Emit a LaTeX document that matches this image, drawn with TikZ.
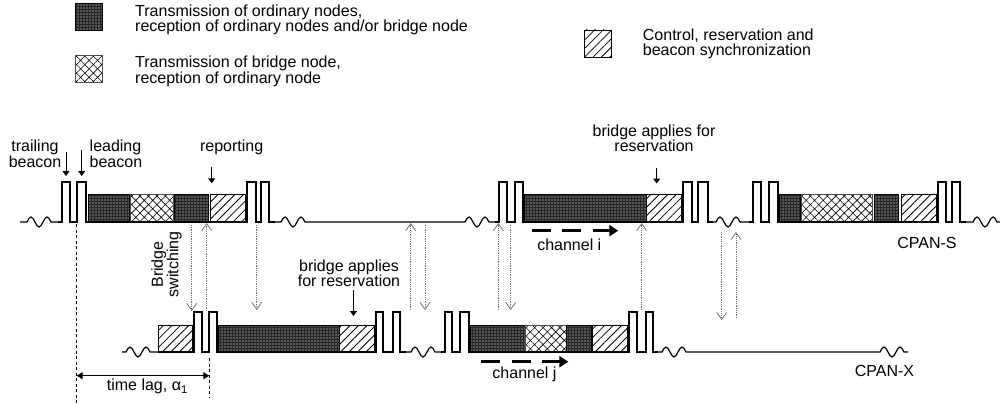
\documentclass[tikz,border=0pt]{standalone}
\usepackage{fontspec}
\setmainfont{Liberation Sans}
\usetikzlibrary{arrows.meta,patterns,patterns.meta}
\newcommand\wavy{sin ++(4,-5) cos ++(4,5) sin ++(4,5) cos ++(4,-5) sin ++(4,-5) cos ++(4,5)}
\tikzset{
  sig/.style={line width=1.8pt, line join=miter},
  idle/.style={line width=1.2pt},
  dotbox/.style={fill=black!85, postaction={pattern={Dots[distance=3pt,radius=0.6pt]}, pattern color=white}, postaction={draw=black,line width=0.7pt}},
  crossbox/.style={fill=white, postaction={pattern={Hatch[angle=45,distance=6pt,line width=0.6pt]}, pattern color=black}, postaction={draw=black!70,line width=0.7pt}},
  hatchbox/.style={fill=white, postaction={pattern={Lines[angle=45,distance=6pt,line width=0.8pt]}, pattern color=black}, postaction={draw=black,line width=0.8pt}},
  lbl/.style={-{Triangle[length=5pt,width=7pt]}, line width=1pt},
  sync/.style={densely dotted, draw=black!55, line width=0.8pt, -{Straight Barb[length=7pt,width=10pt]}},
  chan/.style={line width=2.6pt, dash pattern=on 19pt off 11.5pt, -{Triangle[length=9pt,width=11pt]}},
  lag/.style={{Triangle[length=6pt,width=7pt]}-{Triangle[length=6pt,width=7pt]}, line width=1.1pt},
  guide/.style={line width=0.8pt, dash pattern=on 3pt off 2.5pt},
  txt/.style={inner sep=0pt, font=\fontsize{16}{15.5}\selectfont}
}
\begin{document}
\begin{tikzpicture}[x=1pt,y=-1pt]
\useasboundingbox (0,0) rectangle (1000,404);

% ---------- legend ----------
\path[dotbox]   (75,3.5) rectangle (102,30);
\path[crossbox] (75,55.5) rectangle (102,82);
\path[hatchbox] (584,30) rectangle (611,57);
\node[txt, anchor=north west, align=left] (leg1) at (135,4.4) {Transmission of ordinary nodes,\\reception of ordinary nodes and/or bridge node};
\node[txt, anchor=north west, align=left] (leg2) at (135,55.9) {Transmission of bridge node,\\reception of ordinary node};
\node[txt, anchor=north west, align=left] (leg3) at (642.7,28.4) {Control, reservation and\\beacon synchronization};

% ---------- boxes, CPAN-S ----------
\path[dotbox]   (88,194.5) rectangle (129.5,222);
\path[crossbox] (130,194.5) rectangle (173.5,222);
\path[dotbox]   (174,194.5) rectangle (208,222);
\path[hatchbox] (210,194.5) rectangle (245,222);
\path[dotbox]   (524.5,194.5) rectangle (646.5,222);
\path[hatchbox] (646.5,194.5) rectangle (681,222);
\path[dotbox]   (779,194.5) rectangle (800,222);
\path[crossbox] (801.5,194.5) rectangle (872.5,222);
\path[dotbox]   (874.5,194.5) rectangle (898.5,222);
\path[hatchbox] (901.5,194.5) rectangle (936,222);

% ---------- boxes, CPAN-X ----------
\path[hatchbox] (158.5,325.5) rectangle (192.5,352);
\path[dotbox]   (218.5,325.5) rectangle (339.5,352);
\path[hatchbox] (339.5,325.5) rectangle (374.5,352);
\path[dotbox]   (470.5,325.5) rectangle (525,352);
\path[crossbox] (525,325.5) rectangle (566,352);
\path[dotbox]   (566,325.5) rectangle (591,352);
\path[hatchbox] (592.5,325.5) rectangle (627.5,352);

% ---------- CPAN-S signal ----------
\draw[idle] (20,222) -- (27,222) \wavy -- (62,222);
\draw[idle] (269,222) -- (281,222) \wavy -- (465,222) \wavy -- (499,222);
\draw[idle] (708,222) -- (716,222) \wavy -- (753,222);
\draw[idle] (960,222) -- (973,222) \wavy -- (1000,222);
\draw[sig] (58,222) -- (62,222) -- (62,182) -- (70,182) -- (70,222) -- (77,222) -- (77,182) -- (86,182) -- (86,222)
  -- (247,222) -- (247,182) -- (256,182) -- (256,222) -- (261,222) -- (261,182) -- (269,182) -- (269,222) -- (275,222);
\draw[sig] (495,222) -- (499,222) -- (499,182) -- (507,182) -- (507,222) -- (515,222) -- (515,182) -- (523,182) -- (523,222)
  -- (683,222) -- (683,182) -- (692,182) -- (692,222) -- (698,222) -- (698,182) -- (708,182) -- (708,222) -- (713,222);
\draw[sig] (749,222) -- (753,222) -- (753,182) -- (761,182) -- (761,222) -- (769,222) -- (769,182) -- (778,182) -- (778,222)
  -- (938,222) -- (938,182) -- (946,182) -- (946,222) -- (952,222) -- (952,182) -- (960,182) -- (960,222) -- (966,222);

% ---------- CPAN-X signal ----------
\draw[idle] (122,352) -- (126,352) \wavy -- (158,352);
\draw[sig] (158,352) -- (194,352) -- (194,312) -- (202,312) -- (202,352) -- (209,352) -- (209,312) -- (217,312) -- (217,352)
  -- (376,352) -- (376,312) -- (383,312) -- (383,352) -- (393,352) -- (393,312) -- (400,312) -- (400,352) -- (406,352);
\draw[idle] (400,352) -- (411,352) \wavy -- (445,352);
\draw[sig] (441,352) -- (445,352) -- (445,312) -- (452,312) -- (452,352) -- (460,352) -- (460,312) -- (469,312) -- (469,352)
  -- (629,352) -- (629,312) -- (637,312) -- (637,352) -- (646,352) -- (646,312) -- (653,312) -- (653,352) -- (658,352);
\draw[idle] (653,352) -- (662,352) \wavy -- (880,352) \wavy -- (908,352);

% ---------- labels ----------
\node[txt, anchor=north, align=center] (trail) at (35,140.1) {trailing\\beacon};
\node[txt, anchor=north west, align=left] (lead) at (89.5,140.1) {leading\\beacon};
\node[txt, anchor=base] (rep) at (231.7,151.7) {reporting};
\node[txt, anchor=north, align=center] (brS) at (654,124.4) {bridge applies for\\reservation};
\node[txt, anchor=north, align=center] (brX) at (349,259.4) {bridge applies\\for reservation};
\node[txt, rotate=90, align=center] (bsw) at (166.5,264.5) {Bridge\\switching};
\node[txt, anchor=base] (chi) at (569.3,250) {channel i};
\node[txt, anchor=base] (chj) at (524.5,378.3) {channel j};
\node[txt, anchor=base] (cpans) at (927,248.5) {CPAN-S};
\node[txt, anchor=base] (cpanx) at (884.5,376.5) {CPAN-X};
\node[txt, anchor=base] (lagt) at (147.3,390.5) {time lag, α\textsubscript{1}};

% ---------- label arrows ----------
\coordinate (ta1) at (66,152);    \coordinate (ta2) at (66,176);
\coordinate (la1) at (81.7,150);  \coordinate (la2) at (81.7,176);
\coordinate (ra1) at (211.7,166.7); \coordinate (ra2) at (211.7,183.3);
\coordinate (sa1) at (656.7,168); \coordinate (sa2) at (656.7,183.5);
\coordinate (xa1) at (353.5,290); \coordinate (xa2) at (353.5,316);
\draw[lbl] (ta1) -- (ta2);
\draw[lbl] (la1) -- (la2);
\draw[lbl] (ra1) -- (ra2);
\draw[lbl] (sa1) -- (sa2);
\draw[lbl] (xa1) -- (xa2);

% ---------- synchronisation arrows ----------
\coordinate (d1a) at (191.7,225); \coordinate (d1b) at (191.7,311);
\coordinate (d2a) at (256.7,225); \coordinate (d2b) at (256.7,310);
\coordinate (d3a) at (425,225);   \coordinate (d3b) at (425,310);
\coordinate (d4a) at (510.7,225); \coordinate (d4b) at (510.7,310);
\coordinate (d5a) at (721.7,232); \coordinate (d5b) at (721.7,320);
\coordinate (u1a) at (206.7,311); \coordinate (u1b) at (206.7,223);
\coordinate (u2a) at (410.7,310); \coordinate (u2b) at (410.7,223);
\coordinate (u3a) at (498.3,310); \coordinate (u3b) at (498.3,223);
\coordinate (u4a) at (641.7,310); \coordinate (u4b) at (641.7,223);
\coordinate (u5a) at (736,318);   \coordinate (u5b) at (736,232);
\foreach \n in {d1,d2,d3,d4,d5,u1,u2,u3,u4,u5} \draw[sync] (\n a) -- (\n b);

% ---------- channel arrows ----------
\coordinate (ci1) at (531.7,230.7); \coordinate (ci2) at (618.3,230.7);
\coordinate (cj1) at (481,361.7);   \coordinate (cj2) at (568.3,361.7);
\draw[chan] (ci1) -- (ci2);
\draw[chan] (cj1) -- (cj2);

% ---------- time lag ----------
\coordinate (g1a) at (76.7,224);  \coordinate (g1b) at (76.7,404);
\coordinate (g2a) at (209.3,358); \coordinate (g2b) at (209.3,397);
\draw[guide] (g1a) -- (g1b);
\draw[guide] (g2a) -- (g2b);
\coordinate (lg1) at (76.7,375.7); \coordinate (lg2) at (209.3,375.7);
\draw[lag] (lg1) -- (lg2);
\end{tikzpicture}
\end{document}
